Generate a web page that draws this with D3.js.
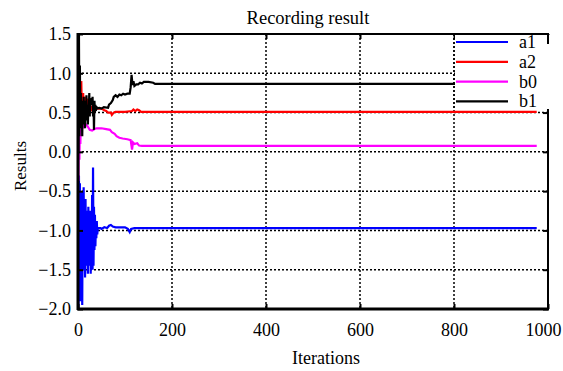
<!DOCTYPE html>
<html lang="en">
<head>
<meta charset="utf-8">
<title>Recording result</title>
<script src="https://cdn.jsdelivr.net/npm/d3@7"></script>
<style>
  body { margin: 0; background: #fff; }
</style>
</head>
<body>
<script>
// Width and height
var w = 563, h = 371;
var margin = {top: 34, right: 15, bottom: 62, left: 78};
var serif = "'Liberation Serif', 'Times New Roman', serif";

// Data: [iteration, value]
var seriesNames = ["a1", "a2", "b0", "b1"];
var seriesColors = ["#0000ff", "#ff0000", "#ff00ff", "#000000"];
var xTicks = [0, 200, 400, 600, 800, 1000];
var yTicks = [-2.0, -1.5, -1.0, -0.5, 0.0, 0.5, 1.0, 1.5];

var a1 = [[0,-1.05],[1,-2.0],[2,-0.3],[3,-1.6],[4,-0.4],[5,-1.9],[6,-0.5],[7,-1.3],[8,-0.5],[9,-1.95],
  [10,-0.6],[11,-1.5],[12,-0.45],[13,-1.2],[14,-0.7],[15,-1.6],[16,-0.6],[17,-1.3],[18,-0.75],[19,-1.45],
  [20,-0.8],[21,-1.55],[22,-0.7],[23,-1.25],[24,-0.9],[25,-1.45],[26,-0.75],[27,-1.55],[28,-1.0],[29,-1.35],
  [30,-0.55],[31,-1.5],[32,-0.2],[33,-1.45],[34,-0.7],[35,-1.25],[36,-0.8],[37,-1.2],[38,-0.95],[39,-1.1],
  [40,-0.88],[41,-1.05],[42,-0.97],[45,-0.97],[48,-0.97],[50,-0.98],[56,-0.96],[62,-0.97],[66,-0.94],[70,-0.93],
  [74,-0.95],[80,-0.96],[100,-0.96],[106,-0.98],[110,-1.02],[113,-0.98],[120,-0.97],[976,-0.97]];
var a2 = [[0,0.45],[1,0.6],[2,0.3],[3,0.75],[4,0.4],[5,0.85],[6,0.5],[7,0.9],[8,0.55],[9,0.7],
  [10,0.45],[11,0.75],[12,0.5],[13,0.65],[14,0.4],[15,0.7],[16,0.5],[17,0.6],[18,0.45],[19,0.68],
  [20,0.5],[22,0.62],[24,0.48],[26,0.6],[28,0.52],[30,0.58],[34,0.5],[38,0.56],[42,0.55],[50,0.55],
  [56,0.53],[60,0.52],[64,0.5],[70,0.5],[72,0.47],[76,0.5],[80,0.51],[100,0.51],[115,0.52],[118,0.54],
  [122,0.52],[126,0.54],[130,0.53],[134,0.51],[976,0.51]];
var b0 = [[0,0.24],[1,-0.37],[2,0.45],[3,-0.1],[4,0.35],[5,0.1],[6,0.4],[8,0.28],[10,0.38],[12,0.3],
  [15,0.36],[20,0.33],[25,0.28],[30,0.27],[35,0.29],[40,0.3],[50,0.3],[60,0.29],[68,0.28],[72,0.25],
  [78,0.23],[82,0.2],[88,0.18],[95,0.17],[105,0.16],[112,0.15],[115,0.03],[117,0.12],[120,0.1],[126,0.11],
  [130,0.08],[136,0.075],[976,0.075]];
var b1 = [[0,1.5],[1,0.0],[2,1.5],[3,0.2],[4,1.1],[5,0.3],[6,0.75],[7,0.4],[8,0.65],[9,0.2],
  [10,0.6],[11,0.35],[12,0.7],[13,0.45],[14,0.65],[15,0.3],[16,0.6],[17,0.4],[18,0.72],[19,0.45],
  [20,0.6],[21,0.35],[22,0.55],[23,0.5],[24,0.75],[25,0.45],[26,0.68],[30,0.6],[31,0.7],[32,0.45],
  [33,0.62],[34,0.28],[35,0.65],[36,0.5],[37,0.6],[38,0.52],[39,0.58],[40,0.55],[45,0.56],[50,0.55],
  [55,0.57],[64,0.56],[66,0.6],[70,0.62],[74,0.66],[76,0.7],[80,0.72],[84,0.7],[88,0.73],[92,0.72],
  [96,0.74],[100,0.73],[105,0.74],[110,0.74],[112,0.82],[114,0.98],[116,0.85],[118,0.9],[120,0.84],[124,0.86],
  [128,0.86],[132,0.88],[136,0.87],[140,0.89],[150,0.89],[160,0.88],[164,0.865],[976,0.865]];
var allSeries = [a1, a2, b0, b1];

var iw = w - margin.left - margin.right;
var ih = h - margin.top - margin.bottom;

var xScale = d3.scaleLinear().domain([0, 1000]).range([0, iw]);
var yScale = d3.scaleLinear().domain([-2, 1.5]).range([ih, 0]);

var svg = d3.select("body").append("svg")
  .attr("width", w).attr("height", h)
  .attr("font-family", serif);

var g = svg.append("g")
  .attr("transform", "translate(" + margin.left + "," + margin.top + ")");

svg.append("defs").append("clipPath").attr("id", "clip")
  .append("rect").attr("width", iw).attr("height", ih);

// gridlines (dotted)
g.append("g").selectAll("line").data(xTicks.slice(1, -1)).enter().append("line")
  .attr("x1", function(d) { return xScale(d); }).attr("x2", function(d) { return xScale(d); })
  .attr("y1", 0).attr("y2", ih)
  .attr("stroke", "#000").attr("stroke-width", 1.5).attr("stroke-dasharray", "2,2");
g.append("g").selectAll("line").data(yTicks.slice(1, -1)).enter().append("line")
  .attr("x1", 0).attr("x2", iw)
  .attr("y1", function(d) { return yScale(d); }).attr("y2", function(d) { return yScale(d); })
  .attr("stroke", "#000").attr("stroke-width", 1.5).attr("stroke-dasharray", "2,2");

// series
var line = d3.line()
  .x(function(d) { return xScale(d[0]); })
  .y(function(d) { return yScale(d[1]); });

g.append("g").attr("clip-path", "url(#clip)")
  .selectAll("path").data(allSeries).enter().append("path")
  .attr("d", line)
  .attr("fill", "none")
  .attr("stroke", function(d, i) { return seriesColors[i]; })
  .attr("stroke-width", 2.2)
  .attr("stroke-linejoin", "miter");

// axes (labels plus small inner ticks), mirrored ticks on top and right
var xAxis = g.append("g").attr("transform", "translate(0," + ih + ")")
  .call(d3.axisBottom(xScale).tickValues(xTicks).tickSize(-5).tickPadding(14)
    .tickFormat(d3.format("d")));
var yAxis = g.append("g")
  .call(d3.axisLeft(yScale).tickValues(yTicks).tickSize(-5).tickPadding(7)
    .tickFormat(d3.format(".1f")));
var xTop = g.append("g")
  .call(d3.axisTop(xScale).tickValues(xTicks).tickSize(-5).tickFormat(""));
var yRight = g.append("g").attr("transform", "translate(" + iw + ",0)")
  .call(d3.axisRight(yScale).tickValues(yTicks).tickSize(-5).tickFormat(""));
[xAxis, yAxis, xTop, yRight].forEach(function(a) {
  a.attr("font-family", serif).attr("font-size", 18);
  a.select(".domain").remove();
  a.selectAll(".tick line").attr("stroke", "#000").attr("stroke-width", 2);
  a.selectAll("text").attr("fill", "#000").attr("font-family", serif).attr("font-size", 18);
});
// last x label is pulled in a bit so it stays inside the picture
xAxis.selectAll(".tick text").filter(function(d) { return d === 1000; }).attr("dx", -5);

// frame
g.append("rect").attr("width", iw).attr("height", ih)
  .attr("fill", "none").attr("stroke", "#000").attr("stroke-width", 2);
g.append("line").attr("x1", 0).attr("x2", 0).attr("y1", -1).attr("y2", ih + 1)
  .attr("stroke", "#000").attr("stroke-width", 3);
g.append("line").attr("x1", -1).attr("x2", iw + 1).attr("y1", ih).attr("y2", ih)
  .attr("stroke", "#000").attr("stroke-width", 3);

// legend (white box over the top right corner)
var lx = xScale(800);
var leg = g.append("g").attr("transform", "translate(" + lx + ",0)");
leg.append("rect").attr("x", 1).attr("y", 1).attr("width", iw - lx + 1).attr("height", 74)
  .attr("fill", "#fff");
leg.append("rect").attr("x", iw - lx - 1).attr("y", 0).attr("width", 2).attr("height", 10)
  .attr("fill", "#000");
leg.append("line").attr("x1", 0).attr("x2", 0).attr("y1", 0).attr("y2", 76)
  .attr("stroke", "#000").attr("stroke-width", 1.5).attr("stroke-dasharray", "2,2");
var items = leg.selectAll("g.item").data(seriesNames).enter().append("g")
  .attr("class", "item")
  .attr("transform", function(d, i) { return "translate(0," + (8 + i * 19.8) + ")"; });
items.append("line").attr("x1", 2).attr("x2", 54).attr("y1", 0).attr("y2", 0)
  .attr("stroke", function(d, i) { return seriesColors[i]; }).attr("stroke-width", 2.2);
items.append("text").attr("x", 65).attr("y", 6)
  .attr("font-family", serif).attr("font-size", 18)
  .text(function(d) { return d; });

// title and axis labels
svg.append("text").attr("x", 308).attr("y", 24)
  .attr("text-anchor", "middle").attr("font-family", serif).attr("font-size", 18.5)
  .text("Recording result");
svg.append("text").attr("x", 326).attr("y", 364)
  .attr("text-anchor", "middle").attr("font-family", serif).attr("font-size", 18)
  .text("Iterations");
svg.append("text").attr("transform", "translate(26,166) rotate(-90)")
  .attr("text-anchor", "middle").attr("font-family", serif).attr("font-size", 17)
  .text("Results");
</script>
</body>
</html>
